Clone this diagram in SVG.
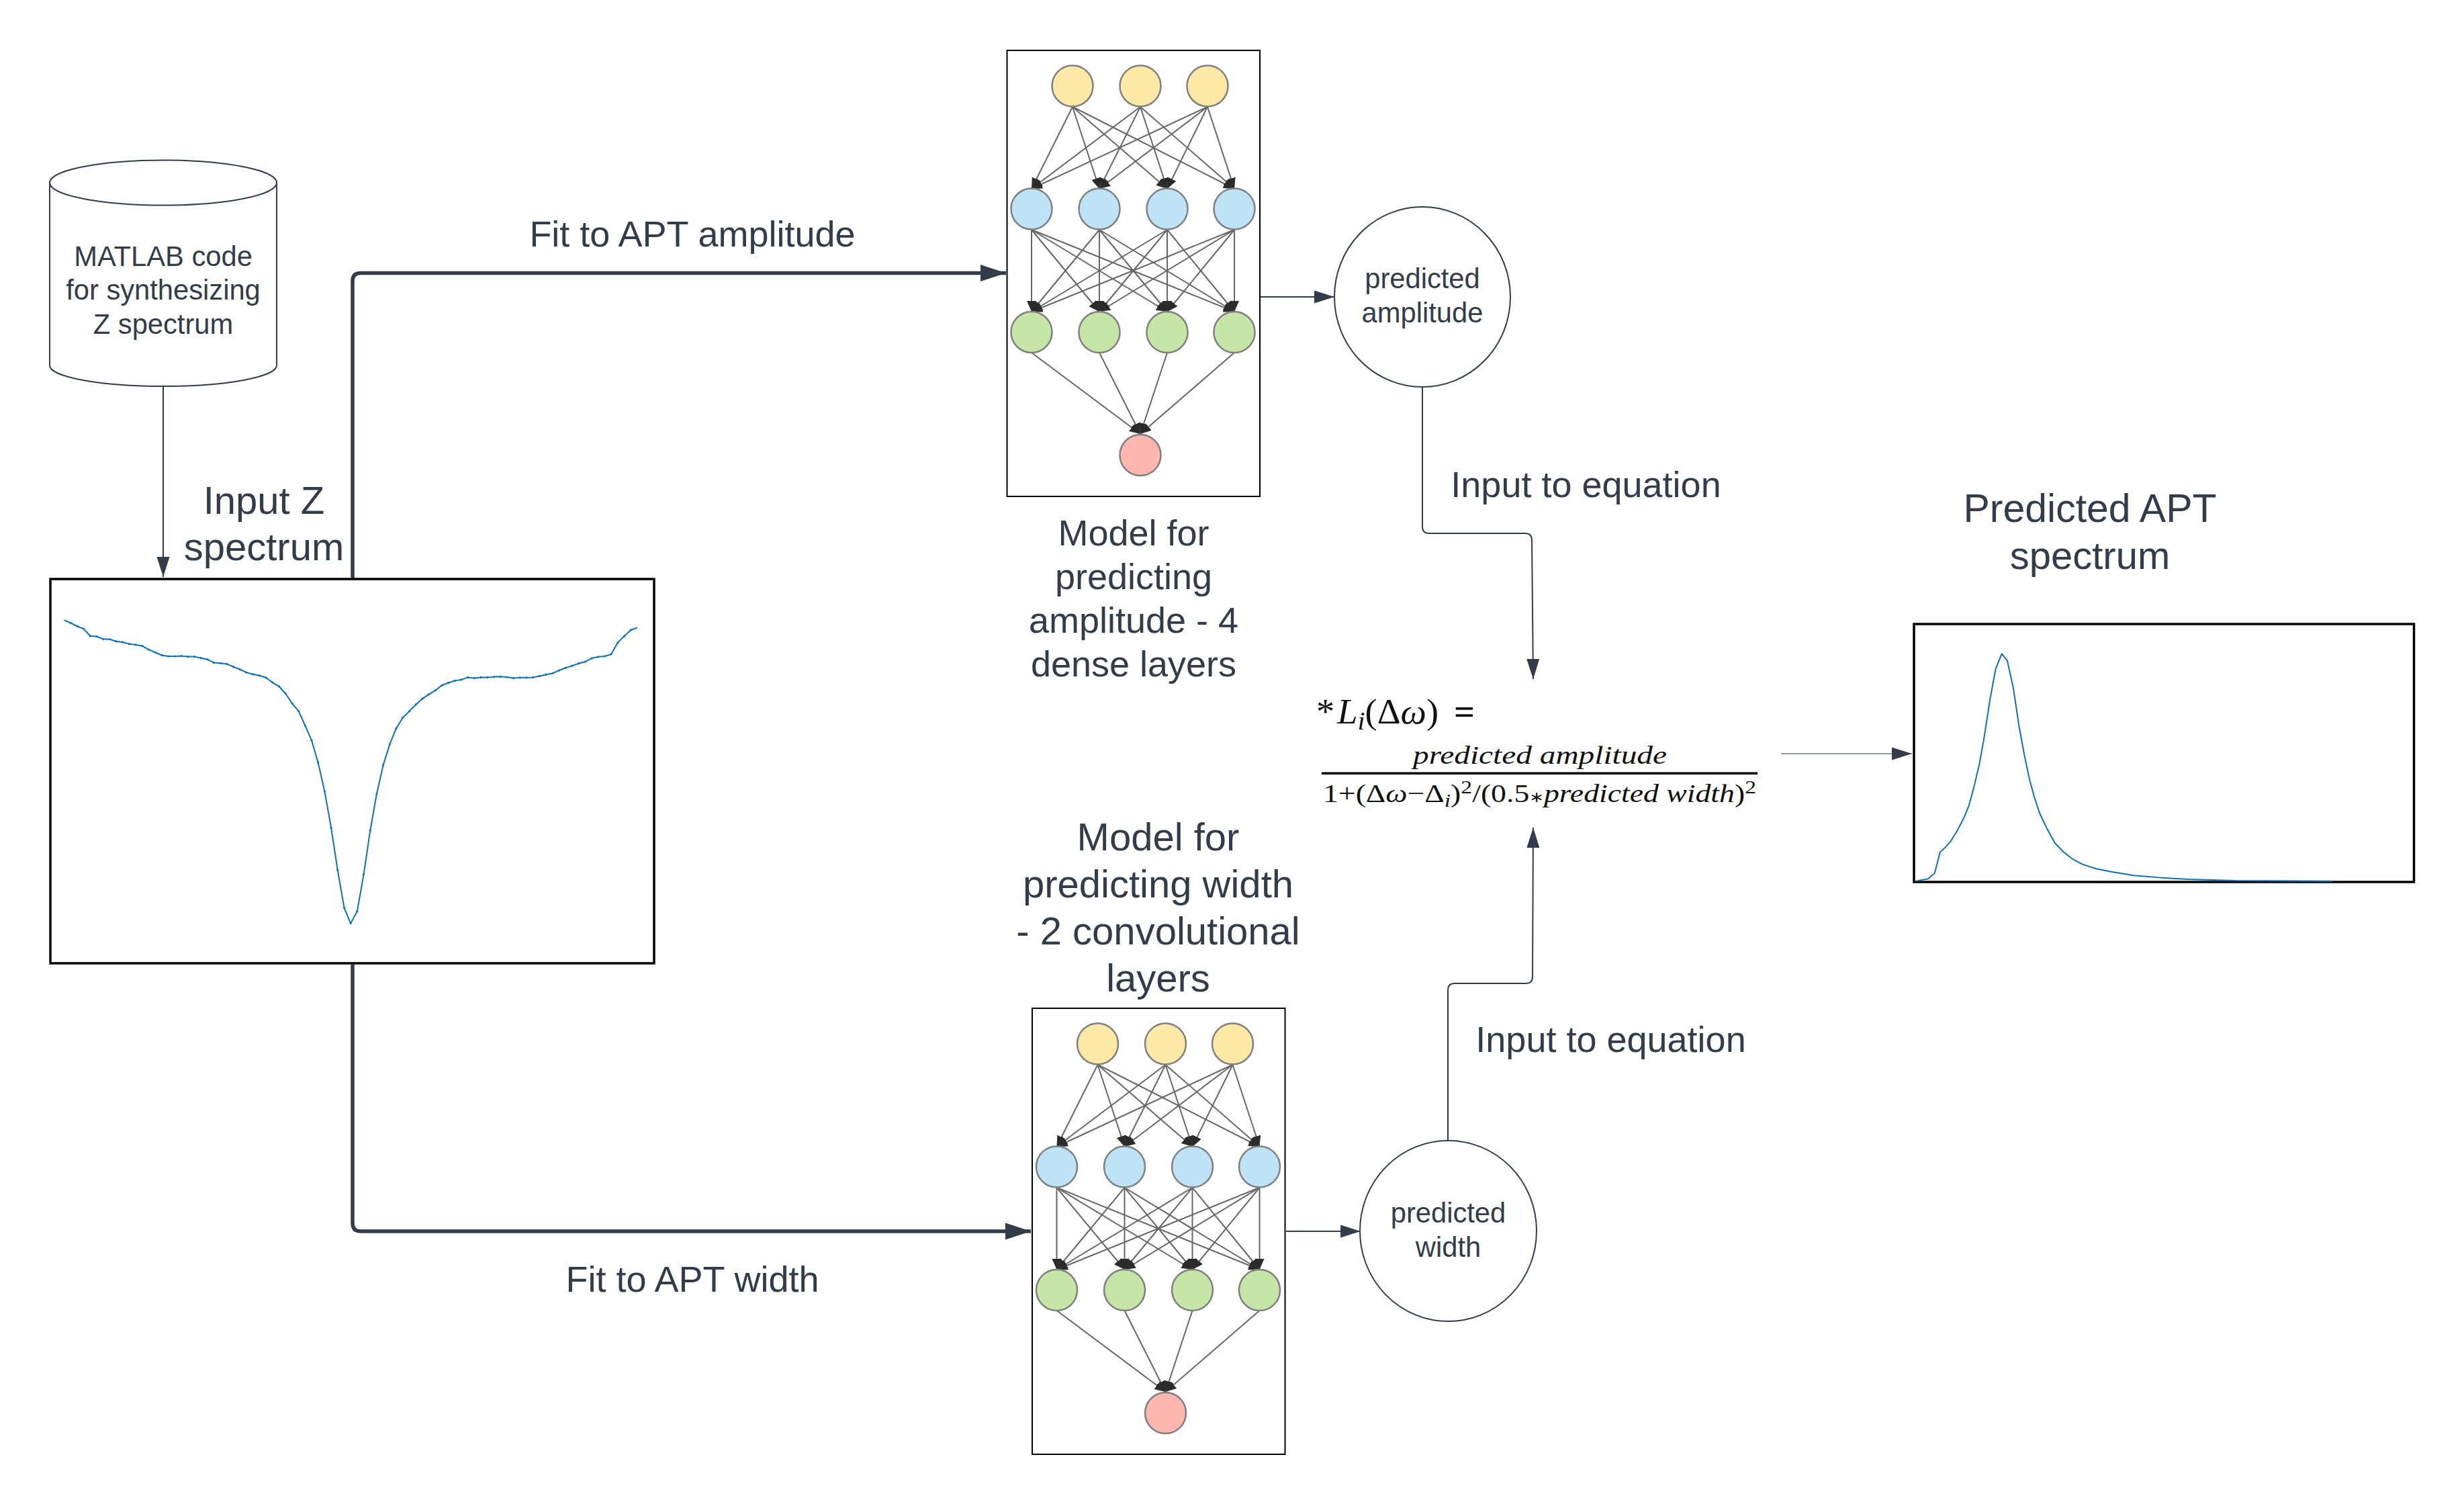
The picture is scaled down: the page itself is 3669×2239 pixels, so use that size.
<svg xmlns="http://www.w3.org/2000/svg" xmlns:xlink="http://www.w3.org/1999/xlink" width="3669" height="2239" viewBox="0 0 3669 2239">
<style>
text{font-family:"Liberation Sans",Arial,sans-serif;fill:#333c4a;text-anchor:middle}
.s40{font-size:41.700px}
.s54{font-size:54px}
.s58{font-size:58px}
.eq{font-family:"Liberation Serif","Times New Roman",serif;fill:#111;text-anchor:start}
.i{font-style:italic}
.frame{fill:#fff;stroke:#000;stroke-width:3.500}
.nnframe{fill:#fff;stroke:#000;stroke-width:2}
.shape{fill:#fff;stroke:#333c4a;stroke-width:2}
.thin{fill:none;stroke:#333c4a;stroke-width:2;marker-end:url(#arr)}
.thick{fill:none;stroke:#333c4a;stroke-width:5.500;marker-end:url(#arrb)}
.curve{fill:none;stroke:#0a72ba;stroke-width:2;stroke-linejoin:round;vector-effect:non-scaling-stroke}
.dots{marker-mid:url(#dot)}
.y{fill:#fde9a6}.b{fill:#bee3f7}.g{fill:#c6e6a8}.r{fill:#ffb6ae}
.n circle{stroke:#808080;stroke-width:2.500}
.e line{stroke:#666;stroke-width:2;marker-end:url(#nnh)}
</style>
<defs>
<marker id="arr" markerUnits="userSpaceOnUse" markerWidth="30" markerHeight="20" refX="30" refY="10" orient="auto" viewBox="0 0 30 20"><path d="M0 .5L30 10L0 19.500z" fill="#333c4a"/></marker>
<marker id="arrb" markerUnits="userSpaceOnUse" markerWidth="38" markerHeight="26" refX="38" refY="13" orient="auto" viewBox="0 0 38 26"><path d="M0 .5L38 13L0 25.500z" fill="#333c4a"/></marker>
<marker id="nnh" markerUnits="userSpaceOnUse" markerWidth="16" markerHeight="14" refX="16" refY="7" orient="auto" viewBox="0 0 16 14"><path d="M0 0L16 7L0 14z" fill="#2b2b2b"/></marker>
<marker id="dot" markerUnits="userSpaceOnUse" markerWidth="12" markerHeight="12" refX="6" refY="6" viewBox="0 0 12 12"><ellipse cx="6" cy="6" rx="2.600" ry="4.200" fill="#0a72ba"/></marker>
<g id="nn">
<rect class="nnframe" x="1499.500" y="75" width="376.500" height="664"/>
<g class="e">
<line x1="1597" y1="159" x2="1536" y2="281"/><line x1="1597" y1="159" x2="1637" y2="281"/><line x1="1597" y1="159" x2="1738" y2="281"/><line x1="1597" y1="159" x2="1838" y2="281"/>
<line x1="1698" y1="159" x2="1536" y2="281"/><line x1="1698" y1="159" x2="1637" y2="281"/><line x1="1698" y1="159" x2="1738" y2="281"/><line x1="1698" y1="159" x2="1838" y2="281"/>
<line x1="1798" y1="159" x2="1536" y2="281"/><line x1="1798" y1="159" x2="1637" y2="281"/><line x1="1798" y1="159" x2="1738" y2="281"/><line x1="1798" y1="159" x2="1838" y2="281"/>
<line x1="1536" y1="342" x2="1536" y2="464"/><line x1="1536" y1="342" x2="1637" y2="464"/><line x1="1536" y1="342" x2="1738" y2="464"/><line x1="1536" y1="342" x2="1838" y2="464"/>
<line x1="1637" y1="342" x2="1536" y2="464"/><line x1="1637" y1="342" x2="1637" y2="464"/><line x1="1637" y1="342" x2="1738" y2="464"/><line x1="1637" y1="342" x2="1838" y2="464"/>
<line x1="1738" y1="342" x2="1536" y2="464"/><line x1="1738" y1="342" x2="1637" y2="464"/><line x1="1738" y1="342" x2="1738" y2="464"/><line x1="1738" y1="342" x2="1838" y2="464"/>
<line x1="1838" y1="342" x2="1536" y2="464"/><line x1="1838" y1="342" x2="1637" y2="464"/><line x1="1838" y1="342" x2="1738" y2="464"/><line x1="1838" y1="342" x2="1838" y2="464"/>
<line x1="1536" y1="525" x2="1698" y2="646"/><line x1="1637" y1="525" x2="1698" y2="646"/><line x1="1738" y1="525" x2="1698" y2="646"/><line x1="1838" y1="525" x2="1698" y2="646"/>
</g>
<g class="n">
<circle class="y" cx="1597" cy="128" r="30.500"/><circle class="y" cx="1698" cy="128" r="30.500"/><circle class="y" cx="1798" cy="128" r="30.500"/>
<circle class="b" cx="1536" cy="311" r="30.500"/><circle class="b" cx="1637" cy="311" r="30.500"/><circle class="b" cx="1738" cy="311" r="30.500"/><circle class="b" cx="1838" cy="311" r="30.500"/>
<circle class="g" cx="1536" cy="494.500" r="30.500"/><circle class="g" cx="1637" cy="494.500" r="30.500"/><circle class="g" cx="1738" cy="494.500" r="30.500"/><circle class="g" cx="1838" cy="494.500" r="30.500"/>
<circle class="r" cx="1698" cy="677.500" r="30.500"/>
</g>
</g>
</defs>
<rect width="3669" height="2239" fill="#fff"/>
<g id="connectors">
<path class="thin" d="M243 575V859"/>
<path class="thick" d="M525 861V418Q525 406.500 537 406.500H1498"/>
<path class="thick" d="M525 1436V1821Q525 1833 537 1833H1535"/>
<path class="thin" d="M1876 442H1987"/>
<path class="thin" d="M1915 1833H2026"/>
<path class="thin" d="M2118 576V784Q2118 794 2128 794H2271Q2281 794 2281 804L2283 1011"/>
<path class="thin" d="M2156 1698V1474Q2156 1464 2166 1464H2272Q2282 1464 2282 1454L2283 1232"/>
<path class="thin" style="stroke-width:1.200" d="M2652 1122H2847"/>
</g>
<g id="matlab">
<path class="shape" d="M74 272A169 33.500 0 0 1 412 272V544A169 31 0 0 1 74 544Z"/>
<path class="shape" d="M74 272A169 33.500 0 0 0 412 272"/>
<text class="s40" x="243" y="396">MATLAB code</text>
<text class="s40" x="243" y="446">for synthesizing</text>
<text class="s40" x="243" y="497">Z spectrum</text>
</g>
<g id="z-plot">
<rect class="frame" x="75" y="862" width="899" height="572"/>
<polyline class="curve dots" transform="translate(50 840) scale(0.6061 0.3827)" points="75,217 91,228 107,241 123,251 139,279 155,281 171,291 187,292 203,300 219,303 235,310 251,313 267,318 283,332 299,343 315,354 331,358 347,358 363,357 379,359 395,359 411,365 427,370 443,383 459,385 475,388 491,399 507,409 523,421 539,428 555,433 571,441 587,460 603,475 619,503 635,541 651,571 667,627 683,685 699,772 715,883 731,1025 747,1190 763,1336 779,1397 795,1350 811,1207 827,1036 843,893 859,781 875,700 891,638 907,597 923,572 939,546 955,523 971,506 987,491 1003,471 1019,461 1035,453 1051,449 1067,440 1083,443 1099,440 1115,440 1131,438 1147,437 1163,439 1179,443 1195,441 1211,441 1227,440 1243,435 1259,429 1275,424 1291,413 1307,403 1323,395 1339,386 1355,379 1371,366 1387,360 1403,358 1419,350 1435,305 1451,280 1467,256 1483,247"/>
</g>
<g id="model-amplitude"><use href="#nn" xlink:href="#nn"/></g>
<g id="model-width"><use href="#nn" xlink:href="#nn" transform="translate(37.500 1426)"/></g>
<g id="predicted-amplitude">
<ellipse class="shape" cx="2118" cy="442" rx="131" ry="134"/>
<text class="s40" x="2118" y="429">predicted</text>
<text class="s40" x="2118" y="480">amplitude</text>
</g>
<g id="predicted-width">
<ellipse class="shape" cx="2156.500" cy="1832.500" rx="131.500" ry="134.500"/>
<text class="s40" x="2156.500" y="1820">predicted</text>
<text class="s40" x="2156.500" y="1871">width</text>
</g>
<g id="apt-plot">
<rect class="frame" x="2850" y="929" width="744.500" height="384"/>
<polyline class="curve" transform="translate(2820 910) scale(0.5102 0.3333)" points="65,1205 100,1195 119,1170 135,1076 150,1055 166,1027 183,985 197,945 205,920 219,868 233,790 250,680 264,560 280,400 297,258 315,190 331,220 349,345 365,510 380,635 395,745 410,830 425,900 445,965 470,1035 495,1075 520,1105 550,1130 590,1150 640,1165 700,1180 780,1190 860,1197 1000,1203 1280,1205"/>
</g>
<g id="equation">
<text class="eq" x="1960" y="1077" font-size="52" textLength="236" lengthAdjust="spacingAndGlyphs">*<tspan class="i" dx="4">L</tspan><tspan class="i" font-size="38" dy="9">i</tspan><tspan dy="-9">(Δ</tspan><tspan class="i">ω</tspan><tspan>)</tspan><tspan dx="22" font-weight="bold">=</tspan></text>
<text class="eq i" x="2104" y="1137" font-size="38" textLength="378" lengthAdjust="spacingAndGlyphs">predicted amplitude</text>
<rect x="1968" y="1149.500" width="649" height="3.500" fill="#000"/>
<text class="eq" x="1970" y="1194" font-size="38" textLength="645" lengthAdjust="spacingAndGlyphs">1+(Δ<tspan class="i">ω</tspan>−Δ<tspan class="i" font-size="28" dy="7">i</tspan><tspan dy="-7">)</tspan><tspan font-size="28" dy="-13">2</tspan><tspan dy="13">/(0.5</tspan><tspan font-size="22">∗</tspan><tspan class="i">predicted width</tspan>)<tspan font-size="28" dy="-13">2</tspan></text>
</g>
<g id="labels">
<text class="s58" x="393" y="765">Input Z</text>
<text class="s58" x="393" y="834">spectrum</text>
<text class="s54" x="1031" y="367">Fit to APT amplitude</text>
<text class="s54" x="1031" y="1923">Fit to APT width</text>
<text class="s54" x="1688" y="812">Model for</text>
<text class="s54" x="1688" y="877">predicting</text>
<text class="s54" x="1688" y="942">amplitude - 4</text>
<text class="s54" x="1688" y="1007">dense layers</text>
<text class="s58" x="1724.500" y="1266">Model for</text>
<text class="s58" x="1724.500" y="1336">predicting width</text>
<text class="s58" x="1724.500" y="1406">- 2 convolutional</text>
<text class="s58" x="1724.500" y="1476">layers</text>
<text class="s58" x="3112" y="777" style="font-size:59px">Predicted APT</text>
<text class="s58" x="3112" y="847">spectrum</text>
<text class="s54" x="2361.500" y="740">Input to equation</text>
<text class="s54" x="2398.500" y="1566">Input to equation</text>
</g>
</svg>
